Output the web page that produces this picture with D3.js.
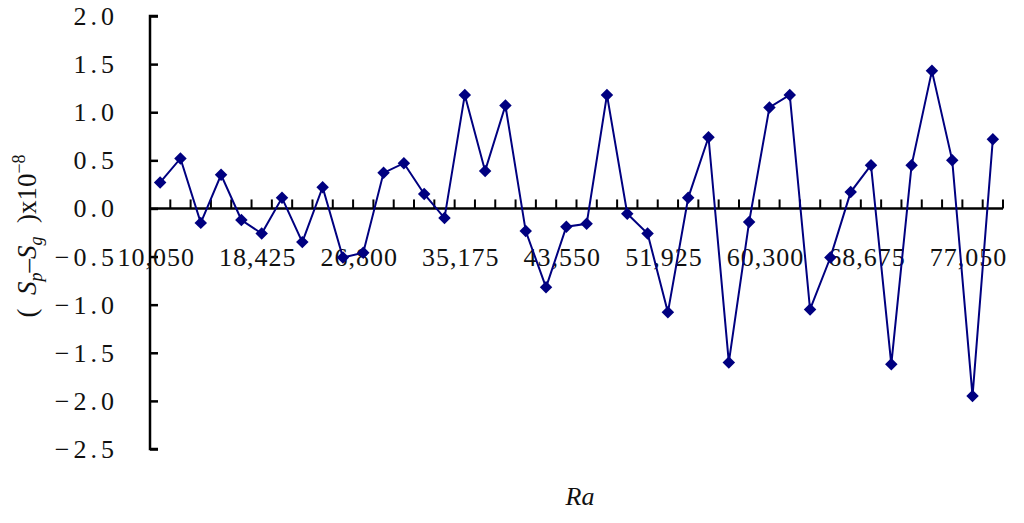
<!DOCTYPE html>
<html>
<head>
<meta charset="utf-8">
<script src="https://cdn.jsdelivr.net/npm/d3@7"></script>
<style>
  html, body { margin: 0; padding: 0; background: #fff; }
  svg { display: block; font-family: "Liberation Serif", "DejaVu Serif", serif; }
  .lbl { font-size: 26px; fill: #111; letter-spacing: 1px; }
  .ylbl { letter-spacing: 4px; }
</style>
</head>
<body>
<svg id="chart" width="1024" height="523"></svg>
<script>
// Ra values (categories)
var raValues = [10050, 11725, 13400, 15075, 16750, 18425, 20100, 21775, 23450, 25125,
                26800, 28475, 30150, 31825, 33500, 35175, 36850, 38525, 40200, 41875,
                43550, 45225, 46900, 48575, 50250, 51925, 53600, 55275, 56950, 58625,
                60300, 61975, 63650, 65325, 67000, 68675, 70350, 72025, 73700, 75375,
                77050, 78725];
// (Sp - Sg) x 1e-8
var diffValues = [0.27, 0.52, -0.15, 0.35, -0.12, -0.26, 0.11, -0.35, 0.22, -0.51,
                  -0.46, 0.37, 0.47, 0.15, -0.10, 1.18, 0.39, 1.07, -0.235, -0.82,
                  -0.19, -0.16, 1.18, -0.055, -0.26, -1.08, 0.11, 0.74, -1.60, -0.14,
                  1.05, 1.18, -1.05, -0.51, 0.17, 0.45, -1.62, 0.45, 1.43, 0.50,
                  -1.95, 0.72];
var yTicks = [2.0, 1.5, 1.0, 0.5, 0.0, -0.5, -1.0, -1.5, -2.0, -2.5];
var labelEvery = 5;

var svg = d3.select("#chart");
var plotLeft = 150, plotRight = 1003, plotTop = 16, plotBottom = 449;

var x = d3.scaleBand()
    .domain(raValues)
    .range([plotLeft, plotRight])
    .padding(0);
var y = d3.scaleLinear()
    .domain([-2.5, 2.0])
    .range([plotBottom, plotTop]);

function fmt(v) {
    return v.toFixed(1).replace("-", "\u2212");
}

// y axis
var yAxis = d3.axisRight(y)
    .tickValues(yTicks)
    .tickSize(8)
    .tickFormat("");
var gy = svg.append("g")
    .attr("transform", "translate(" + plotLeft + ",0)")
    .call(yAxis);
gy.select(".domain").attr("d", "M8," + plotTop + "H0V" + plotBottom + "H8")
    .attr("stroke", "#000").attr("stroke-width", 2.5);
gy.selectAll(".tick line").attr("stroke", "#000").attr("stroke-width", 2.5);

svg.append("g").selectAll("text")
    .data(yTicks)
    .enter().append("text")
    .attr("class", "lbl ylbl")
    .attr("x", 118)
    .attr("y", function(d) { return y(d) + 9; })
    .attr("text-anchor", "end")
    .text(function(d) { return fmt(d); });

// x axis at zero, ticks between categories pointing up
var y0 = y(0);
svg.append("line")
    .attr("x1", plotLeft).attr("x2", plotRight)
    .attr("y1", y0).attr("y2", y0)
    .attr("stroke", "#000").attr("stroke-width", 2.5);
svg.append("g").selectAll("line")
    .data(raValues)
    .enter().append("line")
    .attr("x1", function(d) { return x(d) + x.bandwidth(); })
    .attr("x2", function(d) { return x(d) + x.bandwidth(); })
    .attr("y1", y0)
    .attr("y2", y0 - 9)
    .attr("stroke", "#000").attr("stroke-width", 2);

svg.append("g").selectAll("text")
    .data(raValues.filter(function(d, i) { return i % labelEvery == 0; }))
    .enter().append("text")
    .attr("class", "lbl")
    .attr("x", function(d) { return x(d) + x.bandwidth() / 2 - 4; })
    .attr("y", 266)
    .attr("text-anchor", "middle")
    .text(function(d) { return d3.format(",")(d); });

// line + markers
var line = d3.line()
    .x(function(d, i) { return x(raValues[i]) + x.bandwidth() / 2; })
    .y(function(d) { return y(d); });

svg.append("path")
    .datum(diffValues)
    .attr("d", line)
    .attr("fill", "none")
    .attr("stroke", "#000080")
    .attr("stroke-width", 2);

svg.append("g").selectAll("path")
    .data(diffValues)
    .enter().append("path")
    .attr("d", d3.symbol().type(d3.symbolSquare).size(78))
    .attr("fill", "#000080")
    .attr("transform", function(d, i) {
        return "translate(" + (x(raValues[i]) + x.bandwidth() / 2) + "," + y(d) + ") rotate(45)";
    });

// axis titles
svg.append("text")
    .attr("x", 580)
    .attr("y", 505)
    .attr("text-anchor", "middle")
    .attr("font-size", 26)
    .attr("font-style", "italic")
    .attr("fill", "#111")
    .text("Ra");

var yt = svg.append("text")
    .attr("transform", "translate(36,236) rotate(-90)")
    .attr("text-anchor", "middle")
    .attr("font-size", 27)
    .attr("fill", "#111");
yt.append("tspan").text("(\u2002");
yt.append("tspan").attr("font-style", "italic").text("S");
yt.append("tspan").attr("font-style", "italic").attr("font-size", 18).attr("dy", 6).text("p");
yt.append("tspan").attr("dy", -6).text("\u2013");
yt.append("tspan").attr("font-style", "italic").text("S");
yt.append("tspan").attr("font-style", "italic").attr("font-size", 18).attr("dy", 6).text("g");
yt.append("tspan").attr("dy", -6).text("\u2002)x10");
yt.append("tspan").attr("font-size", 18).attr("dy", -11).text("\u22128");
</script>
</body>
</html>
